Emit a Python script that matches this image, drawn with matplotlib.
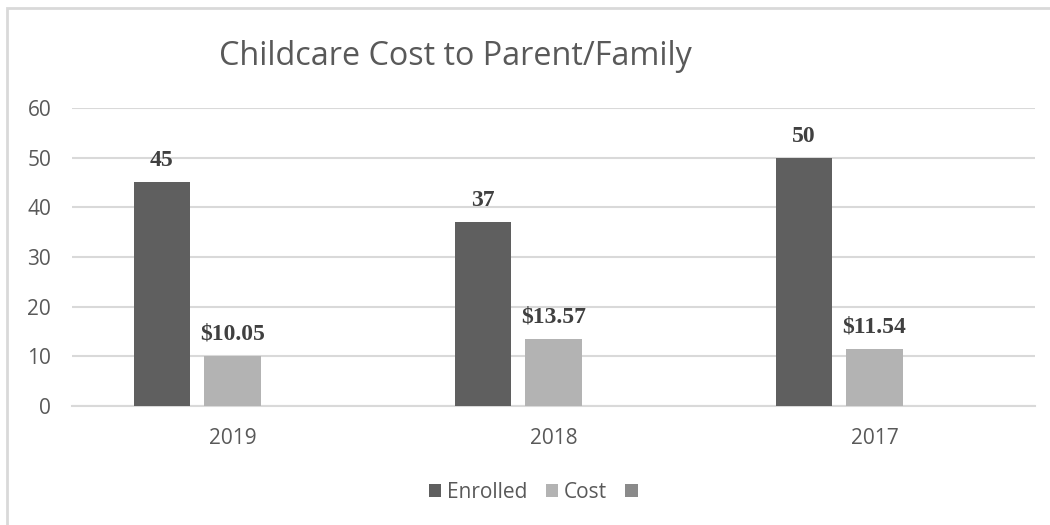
import matplotlib.pyplot as plt
import numpy as np
from matplotlib.patches import Rectangle

# data
years = ["2019", "2018", "2017"]
enrolled = [45, 37, 50]
cost = [10.05, 13.57, 11.54]
enrolled_labels = ["45", "37", "50"]
cost_labels = ["$10.05", "$13.57", "$11.54"]

dark = "#5f5f5f"
light = "#b3b3b3"
mid = "#8a8a8a"
grid_c = "#d9d9d9"
text_c = "#595959"

fig = plt.figure(figsize=(10.5, 5.25), dpi=100)
ax = fig.add_axes([0.0686, 0.2267, 0.9171, 0.5676])

x = np.arange(len(years))
w = 0.175
step = 0.22

b1 = ax.bar(x - step, enrolled, w, color=dark, label="Enrolled", zorder=3)
b2 = ax.bar(x, cost, w, color=light, label="Cost", zorder=3)
# empty third series, only shows in the legend
b3 = ax.bar(x + step, [0, 0, 0], w, color=mid, label=" ", zorder=3)

for bars, labels in [(b1, enrolled_labels), (b2, cost_labels)]:
    for rect, lab in zip(bars, labels):
        ax.annotate(lab, (rect.get_x() + rect.get_width() / 2, rect.get_height()),
                    xytext=(0, 8), textcoords="offset points", ha="center", va="bottom",
                    fontfamily="Liberation Serif", fontweight="bold", fontsize=17,
                    color="#404040")

ax.set_xlim(-0.5, 2.5)
ax.set_ylim(0, 60)
ax.set_yticks(range(0, 61, 10))
ax.set_xticks(x)
ax.set_xticklabels(years)
ax.yaxis.grid(True, color=grid_c, linewidth=1.5, zorder=0)
ax.tick_params(length=0, labelsize=15, labelcolor=text_c)
ax.tick_params(axis="x", pad=16)
ax.tick_params(axis="y", pad=15)
for s in ["top", "right", "left"]:
    ax.spines[s].set_visible(False)
ax.spines["bottom"].set_color(grid_c)
ax.spines["bottom"].set_linewidth(1.5)
for t in ax.get_xticklabels() + ax.get_yticklabels():
    t.set_fontfamily("Open Sans")

fig.text(0.434, 0.893, "Childcare Cost to Parent/Family", ha="center", va="center",
         fontsize=23.3, color=text_c, fontfamily="Open Sans")

# chart area border (only top and left edge visible)
fig.patches.append(Rectangle((7 / 1050, -0.1), 1.2, 1 - 8 / 525 + 0.1, transform=fig.transFigure,
                             fill=False, edgecolor=grid_c, linewidth=2))

leg = fig.legend(handles=[b1, b2, b3], loc="center", bbox_to_anchor=(0.513, 0.062), ncol=3,
                 frameon=False, fontsize=15, handlelength=0.6, handleheight=0.6,
                 handletextpad=0.25, columnspacing=0.9)
for t in leg.get_texts():
    t.set_color(text_c)
    t.set_fontfamily("Open Sans")

fig.savefig("out.png", dpi=100)
